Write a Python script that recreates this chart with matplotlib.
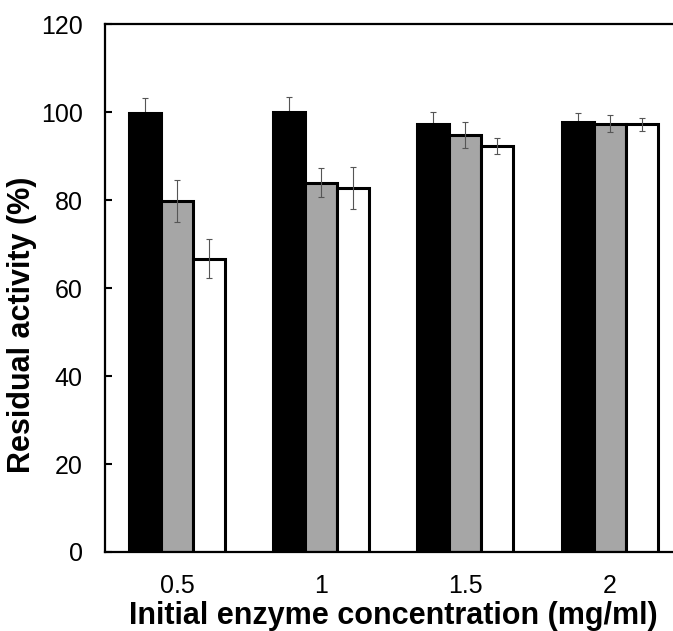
import matplotlib
matplotlib.use('Agg')
import matplotlib.pyplot as plt
import numpy as np

plt.rcParams['font.family'] = ['Liberation Sans', 'DejaVu Sans']

concentrations = ['0.5', '1', '1.5', '2']

# residual activity (%) and standard deviation for the three series
black_vals = [99.8, 100.0, 97.3, 97.8]
black_err = [3.4, 3.5, 2.7, 2.1]
gray_vals = [79.8, 84.0, 94.8, 97.4]
gray_err = [4.8, 3.3, 2.9, 2.0]
white_vals = [66.7, 82.7, 92.3, 97.3]
white_err = [4.5, 4.8, 1.8, 1.5]

series = [
    (black_vals, black_err, 'black'),
    (gray_vals, gray_err, '#a6a6a6'),
    (white_vals, white_err, 'white'),
]

fig = plt.figure(figsize=(6.73, 6.31), dpi=100)
ax = fig.add_axes([0.156, 0.1252, 0.857, 0.8363])

x = np.arange(len(concentrations))
width = 0.222
for i, (vals, err, color) in enumerate(series):
    pos = x + (i - 1) * width
    ax.bar(pos, vals, width, color=color, edgecolor='black', linewidth=2.2, zorder=2)
    # on the black bars the lower half of the error bar sits behind the bar
    ez = 1.5 if color == 'black' else 3
    ax.errorbar(pos, vals, yerr=err, fmt='none', ecolor='#555555',
                elinewidth=0.8, capsize=2.5, capthick=0.8, zorder=ez)

ax.set_xlim(-0.5, 3.5)
ax.set_ylim(0, 120)
ax.set_yticks(range(0, 121, 20))
ax.set_xticks(x)
ax.set_xticklabels(concentrations)

ax.tick_params(axis='y', direction='in', length=5, width=1.5, pad=16, labelsize=18)
ax.tick_params(axis='x', length=0, pad=16, labelsize=18)
for s in ax.spines.values():
    s.set_linewidth(1.6)

ax.set_xlabel('Initial enzyme concentration (mg/ml)', fontsize=22, fontweight='bold', labelpad=2)
ax.set_ylabel('Residual activity (%)', fontsize=22, fontweight='bold')
ax.yaxis.set_label_coords(-0.118, 0.43)

fig.savefig('out.png', dpi=100)
